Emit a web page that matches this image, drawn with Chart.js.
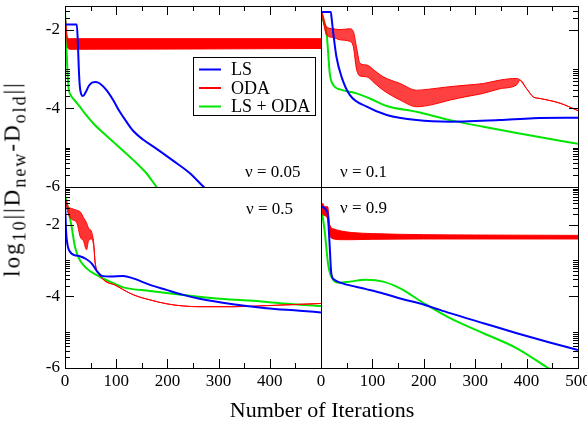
<!DOCTYPE html>
<html>
<head>
<meta charset="utf-8">
<script src="https://cdn.jsdelivr.net/npm/chart.js@4.4.1/dist/chart.umd.min.js"></script>
<style>
    body { margin: 0; background: #fff; }
    #figura { position: relative; width: 587px; height: 424px; overflow: hidden; font-family: "Liberation Serif", serif; color: #000; }
    #figura canvas { position: absolute; left: 0; top: 0; }
    .tituloX { position: absolute; left: 322px; top: 399px; transform: translateX(-50%); font-size: 22px; line-height: 22px; white-space: nowrap; }
    .tituloY { position: absolute; left: 12px; top: 179px; transform: translate(-50%, -50%) rotate(-90deg); font-size: 23px; line-height: 23px; letter-spacing: 2px; white-space: nowrap; }
    .tituloY sub { font-size: 18px; vertical-align: -6px; line-height: 0; }
</style>
</head>
<body>
<div id="figura">
    <canvas id="p005" width="587" height="424"></canvas>
    <canvas id="p01" width="587" height="424"></canvas>
    <canvas id="p05" width="587" height="424"></canvas>
    <canvas id="p09" width="587" height="424"></canvas>
    <div class="tituloY">log<sub>10</sub>||D<sub>new</sub>-D<sub>old</sub>||</div>
    <div class="tituloX">Number of Iterations</div>
</div>
<script>
// Marcas de los ejes
const itTicks = [0, 100, 200, 300, 400, 500];
const itMinor = [50, 150, 250, 350, 450];
const logMajor = [-6, -4, -2];
const logMinorFactor = [2, 3, 4, 5, 6, 7, 8, 9, 10];

// nu = 0.05
const lsIt005 = [0, 23, 25, 27, 29, 32, 35, 40, 47, 54, 60, 68, 81, 94, 107, 120, 133, 153, 179, 211, 244, 271, 320];
const ls005 = [-1.87, -1.87, -2.3, -3.0, -3.45, -3.65, -3.69, -3.6, -3.42, -3.34, -3.33, -3.37, -3.54, -3.79, -4.09, -4.34, -4.57, -4.80, -5.03, -5.33, -5.65, -6.0, -6.55];
const odaIt005 = [0, 3, 5, 10, 500];
const odaHi005 = [-1.55, -2.05, -2.2, -2.23, -2.23];
const odaLo005 = [-1.55, -2.1, -2.45, -2.5, -2.48];
const lsodaIt005 = [0, 2, 3, 5, 7, 11, 19, 29, 40, 55, 75, 101, 133, 159, 179, 230];
const lsoda005 = [-1.55, -2.10, -2.52, -3.11, -3.49, -3.66, -3.80, -3.96, -4.15, -4.38, -4.63, -4.93, -5.31, -5.65, -6.0, -6.7];

// nu = 0.1
const lsIt01 = [0, 19, 21, 24, 30, 40, 56, 89, 128, 186, 251, 348, 413, 500];
const ls01 = [-1.55, -1.55, -1.75, -2.10, -2.69, -3.20, -3.66, -3.96, -4.17, -4.30, -4.34, -4.30, -4.25, -4.24];
const odaIt01 = [0, 3, 11, 24, 37, 56, 63, 69, 76, 89, 105, 121, 154, 186, 219, 251, 284, 316, 349, 381, 387, 400, 413, 426, 465, 500];
const odaHi01 = [-1.5, -1.6, -1.93, -1.98, -2.0, -1.98, -2.05, -2.44, -2.86, -2.9, -3.05, -3.2, -3.37, -3.54, -3.5, -3.45, -3.41, -3.37, -3.28, -3.24, -3.28, -3.5, -3.71, -3.75, -3.87, -4.06];
const odaLo01 = [-1.5, -1.7, -2.14, -2.2, -2.26, -2.3, -2.44, -3.0, -3.18, -3.2, -3.37, -3.54, -3.79, -3.96, -3.9, -3.79, -3.7, -3.62, -3.5, -3.4, -3.28, -3.5, -3.71, -3.75, -3.87, -4.06];
const lsodaIt01 = [0, 5, 11, 17, 24, 37, 69, 95, 128, 186, 251, 316, 381, 446, 500];
const lsoda01 = [-1.55, -1.8, -2.10, -3.11, -3.41, -3.52, -3.62, -3.75, -3.94, -4.09, -4.30, -4.47, -4.63, -4.78, -4.90];

// nu = 0.5
const lsIt05 = [0, 2, 5, 10, 18, 29, 39, 52, 62, 72, 88, 114, 133, 166, 198, 231, 263, 328, 393, 458, 500];
const ls05 = [-1.31, -2.15, -2.57, -2.76, -2.85, -2.88, -2.94, -3.08, -3.29, -3.43, -3.45, -3.43, -3.50, -3.68, -3.82, -3.96, -4.07, -4.22, -4.33, -4.40, -4.45];
const odaIt05 = [0, 6.5, 13, 23, 30, 36, 42, 46, 52, 56, 59, 68, 101, 134, 166, 199, 231, 264, 329, 394, 500];
const odaHi05 = [-1.25, -1.5, -1.55, -1.6, -1.65, -1.8, -1.95, -2.1, -2.2, -2.5, -3.05, -3.41, -3.71, -3.96, -4.1, -4.21, -4.27, -4.29, -4.29, -4.26, -4.2];
const odaLo05 = [-1.25, -1.7, -1.85, -1.95, -2.35, -2.45, -2.7, -2.45, -2.4, -2.6, -3.1, -3.41, -3.71, -3.96, -4.1, -4.21, -4.27, -4.29, -4.29, -4.26, -4.2];
const lsodaIt05 = [0, 6.5, 13, 19.5, 29, 42, 62, 88, 114, 166, 231, 296, 361, 426, 500];
const lsoda05 = [-1.17, -1.59, -2.06, -2.62, -2.99, -3.22, -3.41, -3.59, -3.75, -3.85, -3.96, -4.06, -4.12, -4.20, -4.27];

// nu = 0.9
const lsIt09 = [0, 13, 15, 17, 20, 26, 42, 88, 121, 154, 202, 251, 316, 381, 445, 500];
const ls09 = [-1.5, -1.68, -2.1, -2.62, -3.36, -3.54, -3.64, -3.80, -3.92, -4.06, -4.24, -4.47, -4.75, -5.03, -5.29, -5.5];
const odaIt09 = [0, 3, 7, 13, 17, 25, 40, 60, 100, 200, 300, 500];
const odaHi09 = [-1.5, -1.4, -1.5, -1.5, -2.0, -2.12, -2.18, -2.22, -2.25, -2.28, -2.29, -2.3];
const odaLo09 = [-1.5, -1.7, -1.75, -1.85, -2.3, -2.4, -2.42, -2.42, -2.41, -2.4, -2.4, -2.4];
const lsodaIt09 = [0, 7, 13.6, 20, 36, 56, 88, 121, 154, 202, 251, 316, 381, 442, 500];
const lsoda09 = [-1.5, -2.15, -3.08, -3.45, -3.62, -3.59, -3.54, -3.59, -3.78, -4.21, -4.61, -5.03, -5.45, -6.0, -6.5];

const AZUL = '#0000ff';
const ROJO = '#ff0000';
const VERDE = '#00e600';
const W = 587, H = 424;

Chart.defaults.font.family = '"Liberation Serif", "Times New Roman", serif';
Chart.defaults.color = '#000';

function puntos(xs, ys) {
    return xs.map((x, i) => ({ x, y: ys[i] }));
}

// Marco y marcas hacia dentro, como en xmgrace
const ejes = {
    id: 'ejes',
    afterDatasetsDraw(chart, args, o) {
        const { ctx, chartArea: a, scales: { x, y } } = chart;
        const p = v => Math.round(v) + 0.5;
        ctx.save();
        ctx.strokeStyle = '#000';
        ctx.lineWidth = 1;
        ctx.strokeRect(p(a.left), p(a.top), Math.round(a.right) - Math.round(a.left), Math.round(a.bottom) - Math.round(a.top));
        ctx.beginPath();
        const marcaX = (v, len) => {
            if (v <= x.min || v >= x.max) return;
            const px = p(x.getPixelForValue(v));
            if (o.lados.includes('top')) { ctx.moveTo(px, a.top); ctx.lineTo(px, a.top + len); }
            if (o.lados.includes('bottom')) { ctx.moveTo(px, a.bottom); ctx.lineTo(px, a.bottom - len); }
        };
        const marcaY = (v, len) => {
            if (v <= y.min || v >= y.max) return;
            const py = p(y.getPixelForValue(v));
            if (o.lados.includes('left')) { ctx.moveTo(a.left, py); ctx.lineTo(a.left + len, py); }
            if (o.lados.includes('right')) { ctx.moveTo(a.right, py); ctx.lineTo(a.right - len, py); }
        };
        itTicks.forEach(v => marcaX(v, 9));
        itMinor.forEach(v => marcaX(v, 5));
        logMajor.forEach(m => {
            marcaY(m, 9);
            logMinorFactor.forEach(k => marcaY(m + Math.log10(k), 5));
        });
        ctx.stroke();
        ctx.restore();
    }
};

// Texto nu = ... dentro de cada panel
const rotulo = {
    id: 'rotulo',
    afterDraw(chart, args, o) {
        if (!o.texto) return;
        const ctx = chart.ctx;
        ctx.save();
        ctx.font = '17px "Liberation Serif"';
        ctx.fillStyle = '#000';
        ctx.textBaseline = 'alphabetic';
        ctx.fillText(o.texto, o.x, o.y);
        ctx.restore();
    }
};

// Leyenda con caja, solo en el primer panel
const leyenda = {
    id: 'leyenda',
    afterDraw(chart, args, o) {
        if (!o.mostrar) return;
        const ctx = chart.ctx;
        ctx.save();
        ctx.fillStyle = '#fff';
        ctx.fillRect(o.x, o.y, o.w, o.h);
        ctx.strokeStyle = '#000';
        ctx.lineWidth = 1;
        ctx.strokeRect(o.x + 0.5, o.y + 0.5, o.w, o.h);
        const items = chart.data.datasets.filter(d => d.enLeyenda);
        ctx.font = '18px "Liberation Serif"';
        ctx.textBaseline = 'middle';
        items.forEach((d, i) => {
            const yy = o.y + 12.5 + i * 18.5;
            ctx.strokeStyle = d.borderColor;
            ctx.lineWidth = 2;
            ctx.beginPath();
            ctx.moveTo(o.x + 6, yy);
            ctx.lineTo(o.x + 28, yy);
            ctx.stroke();
            ctx.fillStyle = '#000';
            ctx.fillText(d.label, o.x + 38, yy + 1);
        });
        ctx.restore();
    }
};

function series(ls, oda, lsoda, relleno) {
    const base = { pointRadius: 0, cubicInterpolationMode: 'monotone', clip: 0 };
    return [
        { ...base, label: 'LS', enLeyenda: true, data: puntos(ls[0], ls[1]), borderColor: AZUL, borderWidth: 2, fill: false },
        { ...base, label: 'ODA', enLeyenda: true, data: puntos(oda[0], oda[1]), borderColor: ROJO, backgroundColor: relleno, borderWidth: 1, fill: '+1' },
        { ...base, label: 'ODA (min)', data: puntos(oda[0], oda[2]), borderColor: ROJO, borderWidth: 1, fill: false },
        { ...base, label: 'LS + ODA', enLeyenda: true, data: puntos(lsoda[0], lsoda[1]), borderColor: VERDE, borderWidth: 2, fill: false }
    ];
}

function crearPanel(id, p) {
    const [L, T, R, B] = p.area;
    new Chart(document.getElementById(id), {
        type: 'line',
        data: { datasets: series(p.ls, p.oda, p.lsoda, p.relleno || ROJO) },
        options: {
            responsive: false,
            animation: false,
            events: [],
            layout: { padding: { left: 0, top: T, right: W - R, bottom: 0 } },
            plugins: {
                legend: { display: false },
                tooltip: { enabled: false },
                ejes: { lados: p.lados },
                rotulo: p.rotulo,
                leyenda: p.leyenda || {}
            },
            scales: {
                x: {
                    type: 'linear', min: 0, max: 500,
                    grid: { display: false, drawTicks: false },
                    border: { display: false },
                    ticks: {
                        display: p.verX, font: { size: 17 }, color: '#000', padding: 3,
                        maxRotation: 0, autoSkip: false,
                        callback: v => (p.sin500 && v === 500) ? '' : String(v)
                    },
                    afterBuildTicks: s => { s.ticks = itTicks.map(v => ({ value: v })); },
                    afterFit: s => { s.height = H - B; s.paddingLeft = 0; s.paddingRight = 0; }
                },
                y: {
                    type: 'linear', min: -6, max: p.yMax,
                    grid: { display: false, drawTicks: false },
                    border: { display: false },
                    ticks: { display: p.verY, font: { size: 17 }, color: '#000', padding: 5, callback: v => String(v) },
                    afterBuildTicks: s => { s.ticks = logMajor.map(v => ({ value: v })); },
                    afterFit: s => { s.width = L; s.paddingTop = 0; s.paddingBottom = 0; }
                }
            }
        },
        plugins: [ejes, rotulo, leyenda]
    });
}

crearPanel('p005', {
    area: [65, 6, 321, 187], yMax: -1.4, verX: false, verY: true, sin500: true, lados: ['left', 'top'],
    ls: [lsIt005, ls005], oda: [odaIt005, odaHi005, odaLo005], lsoda: [lsodaIt005, lsoda005],
    rotulo: { texto: 'ν = 0.05', x: 245, y: 177 },
    leyenda: { mostrar: true, x: 193, y: 57, w: 122, h: 58 }
});
crearPanel('p01', {
    area: [321, 6, 578, 187], yMax: -1.4, verX: false, verY: false, lados: ['right', 'top'],
    ls: [lsIt01, ls01], oda: [odaIt01, odaHi01, odaLo01], lsoda: [lsodaIt01, lsoda01],
    relleno: 'rgba(255, 0, 0, 0.75)',
    rotulo: { texto: 'ν = 0.1', x: 340, y: 177 }
});
crearPanel('p05', {
    area: [65, 187, 321, 368], yMax: -0.95, verX: true, verY: true, sin500: true, lados: ['left', 'bottom'],
    ls: [lsIt05, ls05], oda: [odaIt05, odaHi05, odaLo05], lsoda: [lsodaIt05, lsoda05],
    relleno: 'rgba(255, 0, 0, 0.8)',
    rotulo: { texto: 'ν = 0.5', x: 246, y: 214 }
});
crearPanel('p09', {
    area: [321, 187, 578, 368], yMax: -0.95, verX: true, verY: false, lados: ['right', 'bottom'],
    ls: [lsIt09, ls09], oda: [odaIt09, odaHi09, odaLo09], lsoda: [lsodaIt09, lsoda09],
    rotulo: { texto: 'ν = 0.9', x: 340, y: 213 }
});
</script>
</body>
</html>
